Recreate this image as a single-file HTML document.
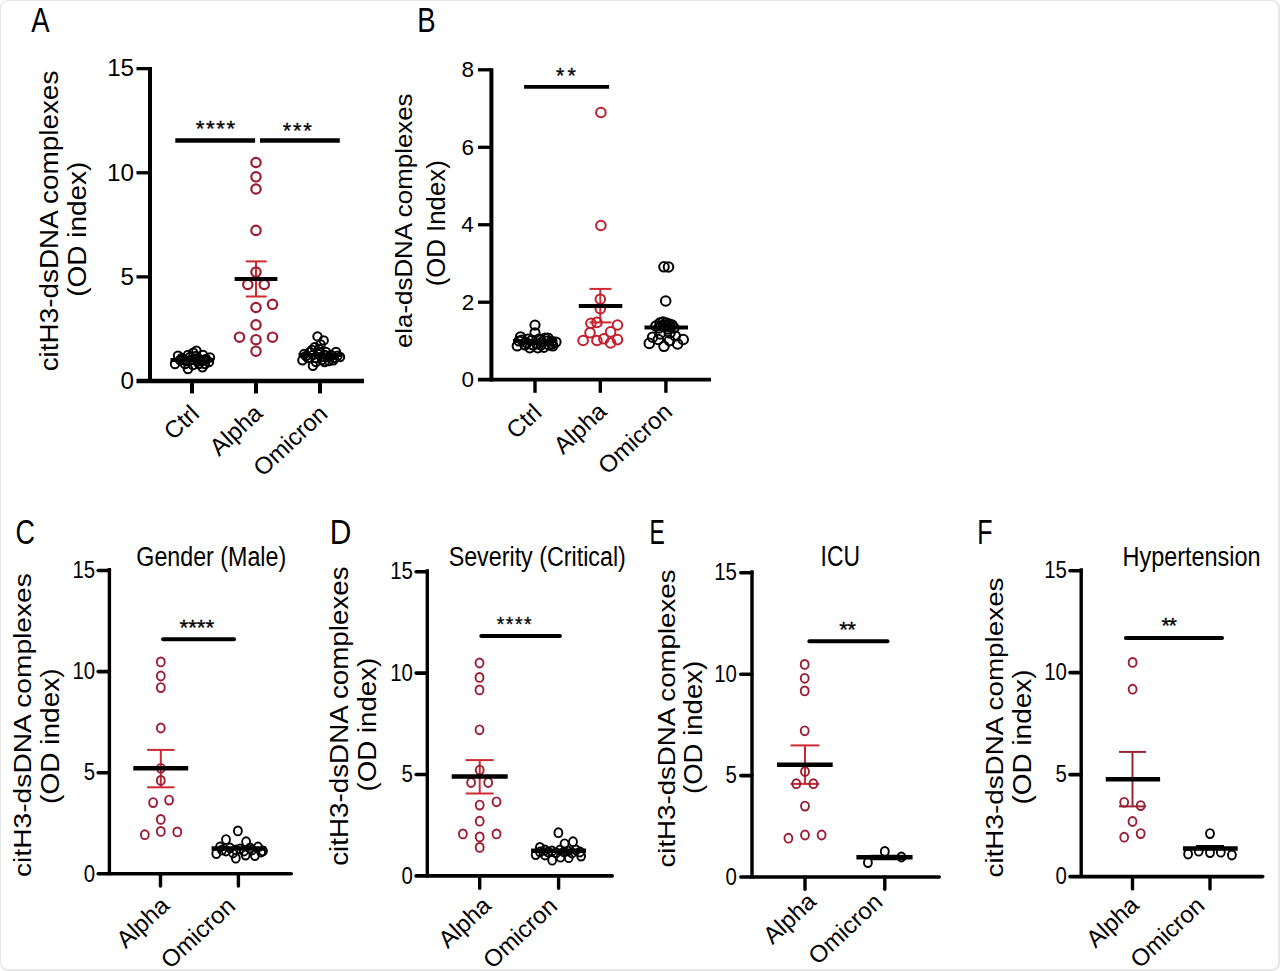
<!DOCTYPE html>
<html><head><meta charset="utf-8"><title>Figure</title>
<style>
html,body{margin:0;padding:0;background:#fff;}
body{width:1280px;height:971px;overflow:hidden;position:relative;}
.frame{position:absolute;left:0;top:0;width:1277px;height:968px;border-style:solid;border-color:#e6e6e6;border-width:1px 2px 2px 1px;border-radius:8px;box-sizing:content-box;}
svg{position:absolute;left:0;top:0;}
text{font-family:'Liberation Sans', Arial, sans-serif;fill:#000;}
</style></head>
<body>
<div class="frame"></div>
<svg width="1280" height="971" viewBox="0 0 1280 971">
<!-- Panel A -->
<text x="31.25" y="31.84" font-size="35.37" textLength="18.34" lengthAdjust="spacingAndGlyphs">A</text>
<line x1="150" y1="67" x2="150" y2="383" stroke="#000" stroke-width="4" stroke-linecap="butt"/>
<line x1="136.5" y1="381" x2="364" y2="381" stroke="#000" stroke-width="4.5" stroke-linecap="butt"/>
<line x1="136.5" y1="68.65" x2="150" y2="68.65" stroke="#000" stroke-width="3.3" stroke-linecap="butt"/>
<line x1="136.5" y1="172.77" x2="150" y2="172.77" stroke="#000" stroke-width="3.3" stroke-linecap="butt"/>
<line x1="136.5" y1="276.88" x2="150" y2="276.88" stroke="#000" stroke-width="3.3" stroke-linecap="butt"/>
<text x="107.13" y="76.27" font-size="24.2">15</text>
<text x="107.06" y="180.5" font-size="24.2">10</text>
<text x="120.59" y="284.5" font-size="24.2">5</text>
<text x="120.51" y="388.74" font-size="24.2">0</text>
<line x1="192" y1="381" x2="192" y2="393.4" stroke="#000" stroke-width="4" stroke-linecap="butt"/>
<line x1="256" y1="381" x2="256" y2="393.4" stroke="#000" stroke-width="4" stroke-linecap="butt"/>
<line x1="320" y1="381" x2="320" y2="393.4" stroke="#000" stroke-width="4" stroke-linecap="butt"/>
<text transform="translate(58.18 371.37) rotate(-90)" font-size="25.21" textLength="300.71" lengthAdjust="spacingAndGlyphs">citH3-dsDNA complexes</text>
<text transform="translate(86.17 296.83) rotate(-90)" font-size="25.89" textLength="135.21" lengthAdjust="spacingAndGlyphs">(OD index)</text>
<text transform="translate(173.29 441.12) rotate(-43)" font-size="24">Ctrl</text>
<text transform="translate(219.1 457.02) rotate(-43)" font-size="24">Alpha</text>
<text transform="translate(262.73 477.42) rotate(-43)" font-size="24">Omicron</text>
<line x1="175.3" y1="140.4" x2="255.1" y2="140.4" stroke="#000" stroke-width="4.5" stroke-linecap="butt"/>
<line x1="260" y1="140.4" x2="339.8" y2="140.4" stroke="#000" stroke-width="4.5" stroke-linecap="butt"/>
<text x="195.64" y="135.53" font-size="22.29" letter-spacing="1.62" stroke="#000" stroke-width="0.3">****</text>
<text x="282.85" y="137.84" font-size="22" letter-spacing="1.58" stroke="#000" stroke-width="0.3">***</text>
<circle cx="175" cy="364" r="4.2" fill="none" stroke="#000" stroke-width="2"/>
<circle cx="188" cy="369" r="4.2" fill="none" stroke="#000" stroke-width="2"/>
<circle cx="196.4" cy="350.8" r="4.2" fill="none" stroke="#000" stroke-width="2"/>
<circle cx="193.2" cy="352.6" r="4.2" fill="none" stroke="#000" stroke-width="2"/>
<circle cx="210" cy="357.5" r="4.2" fill="none" stroke="#000" stroke-width="2"/>
<circle cx="202.5" cy="367.3" r="4.2" fill="none" stroke="#000" stroke-width="2"/>
<circle cx="178" cy="355.6" r="4.2" fill="none" stroke="#000" stroke-width="2"/>
<circle cx="182" cy="358" r="4.2" fill="none" stroke="#000" stroke-width="2"/>
<circle cx="186" cy="361" r="4.2" fill="none" stroke="#000" stroke-width="2"/>
<circle cx="190" cy="357" r="4.2" fill="none" stroke="#000" stroke-width="2"/>
<circle cx="194" cy="360" r="4.2" fill="none" stroke="#000" stroke-width="2"/>
<circle cx="198" cy="358" r="4.2" fill="none" stroke="#000" stroke-width="2"/>
<circle cx="202" cy="361" r="4.2" fill="none" stroke="#000" stroke-width="2"/>
<circle cx="206" cy="359" r="4.2" fill="none" stroke="#000" stroke-width="2"/>
<circle cx="185" cy="364" r="4.2" fill="none" stroke="#000" stroke-width="2"/>
<circle cx="193" cy="365" r="4.2" fill="none" stroke="#000" stroke-width="2"/>
<circle cx="199" cy="364" r="4.2" fill="none" stroke="#000" stroke-width="2"/>
<circle cx="205" cy="364" r="4.2" fill="none" stroke="#000" stroke-width="2"/>
<circle cx="209" cy="362" r="4.2" fill="none" stroke="#000" stroke-width="2"/>
<circle cx="180" cy="360" r="4.2" fill="none" stroke="#000" stroke-width="2"/>
<circle cx="188" cy="355" r="4.2" fill="none" stroke="#000" stroke-width="2"/>
<circle cx="196" cy="356" r="4.2" fill="none" stroke="#000" stroke-width="2"/>
<circle cx="203" cy="355" r="4.2" fill="none" stroke="#000" stroke-width="2"/>
<circle cx="183" cy="360" r="4.2" fill="none" stroke="#000" stroke-width="2"/>
<circle cx="190" cy="360" r="4.2" fill="none" stroke="#000" stroke-width="2"/>
<circle cx="198" cy="361" r="4.2" fill="none" stroke="#000" stroke-width="2"/>
<circle cx="205" cy="360" r="4.2" fill="none" stroke="#000" stroke-width="2"/>
<line x1="170.5" y1="360" x2="213.5" y2="360" stroke="#000" stroke-width="4" stroke-linecap="butt"/>
<line x1="256" y1="261.4" x2="256" y2="296.5" stroke="#cc2a30" stroke-width="2" stroke-linecap="butt"/>
<line x1="245.8" y1="261.4" x2="266.7" y2="261.4" stroke="#cc2a30" stroke-width="2" stroke-linecap="butt"/>
<line x1="245.8" y1="296.5" x2="266.7" y2="296.5" stroke="#cc2a30" stroke-width="2" stroke-linecap="butt"/>
<circle cx="256" cy="162.5" r="4.7" fill="none" stroke="#9c1d33" stroke-width="2.2"/>
<circle cx="256" cy="176.8" r="4.7" fill="none" stroke="#9c1d33" stroke-width="2.2"/>
<circle cx="256" cy="189" r="4.7" fill="none" stroke="#9c1d33" stroke-width="2.2"/>
<circle cx="256" cy="230.4" r="4.7" fill="none" stroke="#9c1d33" stroke-width="2.2"/>
<circle cx="256" cy="272.1" r="4.7" fill="none" stroke="#9c1d33" stroke-width="2.2"/>
<circle cx="247.8" cy="284.5" r="4.7" fill="none" stroke="#9c1d33" stroke-width="2.2"/>
<circle cx="264.3" cy="284.5" r="4.7" fill="none" stroke="#9c1d33" stroke-width="2.2"/>
<circle cx="272.5" cy="304.3" r="4.7" fill="none" stroke="#9c1d33" stroke-width="2.2"/>
<circle cx="256" cy="307.5" r="4.7" fill="none" stroke="#9c1d33" stroke-width="2.2"/>
<circle cx="256" cy="324.8" r="4.7" fill="none" stroke="#9c1d33" stroke-width="2.2"/>
<circle cx="239.5" cy="337.2" r="4.7" fill="none" stroke="#9c1d33" stroke-width="2.2"/>
<circle cx="272.5" cy="337.2" r="4.7" fill="none" stroke="#9c1d33" stroke-width="2.2"/>
<circle cx="256" cy="339.7" r="4.7" fill="none" stroke="#9c1d33" stroke-width="2.2"/>
<circle cx="256" cy="351.2" r="4.7" fill="none" stroke="#9c1d33" stroke-width="2.2"/>
<line x1="234.6" y1="279" x2="277.4" y2="279" stroke="#000" stroke-width="4" stroke-linecap="butt"/>
<circle cx="317.5" cy="336.4" r="4.2" fill="none" stroke="#000" stroke-width="2"/>
<circle cx="323.7" cy="340.4" r="4.2" fill="none" stroke="#000" stroke-width="2"/>
<circle cx="320.6" cy="344.4" r="4.2" fill="none" stroke="#000" stroke-width="2"/>
<circle cx="314.7" cy="347.2" r="4.2" fill="none" stroke="#000" stroke-width="2"/>
<circle cx="302.4" cy="360.2" r="4.2" fill="none" stroke="#000" stroke-width="2"/>
<circle cx="312.9" cy="365.7" r="4.2" fill="none" stroke="#000" stroke-width="2"/>
<circle cx="337.6" cy="355.8" r="4.2" fill="none" stroke="#000" stroke-width="2"/>
<circle cx="333.3" cy="360.2" r="4.2" fill="none" stroke="#000" stroke-width="2"/>
<circle cx="324.6" cy="362" r="4.2" fill="none" stroke="#000" stroke-width="2"/>
<circle cx="304.2" cy="354" r="4.2" fill="none" stroke="#000" stroke-width="2"/>
<circle cx="310" cy="352" r="4.2" fill="none" stroke="#000" stroke-width="2"/>
<circle cx="318" cy="354" r="4.2" fill="none" stroke="#000" stroke-width="2"/>
<circle cx="326" cy="352" r="4.2" fill="none" stroke="#000" stroke-width="2"/>
<circle cx="331" cy="355" r="4.2" fill="none" stroke="#000" stroke-width="2"/>
<circle cx="308" cy="358" r="4.2" fill="none" stroke="#000" stroke-width="2"/>
<circle cx="316" cy="358" r="4.2" fill="none" stroke="#000" stroke-width="2"/>
<circle cx="322" cy="357" r="4.2" fill="none" stroke="#000" stroke-width="2"/>
<circle cx="336" cy="352" r="4.2" fill="none" stroke="#000" stroke-width="2"/>
<circle cx="306" cy="356" r="4.2" fill="none" stroke="#000" stroke-width="2"/>
<circle cx="312" cy="350" r="4.2" fill="none" stroke="#000" stroke-width="2"/>
<circle cx="320" cy="352" r="4.2" fill="none" stroke="#000" stroke-width="2"/>
<circle cx="328" cy="357" r="4.2" fill="none" stroke="#000" stroke-width="2"/>
<circle cx="334" cy="358" r="4.2" fill="none" stroke="#000" stroke-width="2"/>
<circle cx="316" cy="362" r="4.2" fill="none" stroke="#000" stroke-width="2"/>
<circle cx="322" cy="360" r="4.2" fill="none" stroke="#000" stroke-width="2"/>
<circle cx="329" cy="361" r="4.2" fill="none" stroke="#000" stroke-width="2"/>
<circle cx="340" cy="357" r="4.2" fill="none" stroke="#000" stroke-width="2"/>
<circle cx="313" cy="355" r="4.2" fill="none" stroke="#000" stroke-width="2"/>
<circle cx="319" cy="349" r="4.2" fill="none" stroke="#000" stroke-width="2"/>
<circle cx="325" cy="355" r="4.2" fill="none" stroke="#000" stroke-width="2"/>
<line x1="298.5" y1="355" x2="341.5" y2="355" stroke="#000" stroke-width="4" stroke-linecap="butt"/>
<!-- Panel B -->
<text x="417.15" y="31.84" font-size="35.08" textLength="18.34" lengthAdjust="spacingAndGlyphs">B</text>
<line x1="491.4" y1="68.3" x2="491.4" y2="381.5" stroke="#000" stroke-width="4" stroke-linecap="butt"/>
<line x1="478" y1="379.7" x2="711" y2="379.7" stroke="#000" stroke-width="3.8" stroke-linecap="butt"/>
<line x1="478" y1="69.8" x2="491.4" y2="69.8" stroke="#000" stroke-width="3.3" stroke-linecap="butt"/>
<line x1="478" y1="147.28" x2="491.4" y2="147.28" stroke="#000" stroke-width="3.3" stroke-linecap="butt"/>
<line x1="478" y1="224.75" x2="491.4" y2="224.75" stroke="#000" stroke-width="3.3" stroke-linecap="butt"/>
<line x1="478" y1="302.23" x2="491.4" y2="302.23" stroke="#000" stroke-width="3.3" stroke-linecap="butt"/>
<text x="461.48" y="77.15" font-size="22.5">8</text>
<text x="461.5" y="154.63" font-size="22.5">6</text>
<text x="461.17" y="232.1" font-size="22.5">4</text>
<text x="461.64" y="309.69" font-size="22.5">2</text>
<text x="461.39" y="387.05" font-size="22.5">0</text>
<line x1="535" y1="379.7" x2="535" y2="392.8" stroke="#000" stroke-width="3.4" stroke-linecap="butt"/>
<line x1="600.3" y1="379.7" x2="600.3" y2="392.8" stroke="#000" stroke-width="3.4" stroke-linecap="butt"/>
<line x1="665.9" y1="379.7" x2="665.9" y2="392.8" stroke="#000" stroke-width="3.4" stroke-linecap="butt"/>
<text transform="translate(411.76 348.09) rotate(-90)" font-size="24.36" textLength="254.66" lengthAdjust="spacingAndGlyphs">ela-dsDNA complexes</text>
<text transform="translate(444.93 286.3) rotate(-90)" font-size="25.56" textLength="126.03" lengthAdjust="spacingAndGlyphs">(OD Index)</text>
<text transform="translate(515.84 439.92) rotate(-43)" font-size="24">Ctrl</text>
<text transform="translate(563.1 455.22) rotate(-43)" font-size="24">Alpha</text>
<text transform="translate(607.53 475.47) rotate(-43)" font-size="24">Omicron</text>
<line x1="524.1" y1="86.9" x2="609.1" y2="86.9" stroke="#000" stroke-width="3.7" stroke-linecap="butt"/>
<text x="556.06" y="82.84" font-size="21.43" letter-spacing="3.24" stroke="#000" stroke-width="0.3">**</text>
<circle cx="535" cy="325.1" r="4.6" fill="none" stroke="#000" stroke-width="2"/>
<circle cx="535" cy="332.8" r="4.6" fill="none" stroke="#000" stroke-width="2"/>
<circle cx="520.5" cy="336.8" r="4.6" fill="none" stroke="#000" stroke-width="2"/>
<circle cx="517.2" cy="346" r="4.6" fill="none" stroke="#000" stroke-width="2"/>
<circle cx="529.8" cy="347.8" r="4.6" fill="none" stroke="#000" stroke-width="2"/>
<circle cx="537.8" cy="347.8" r="4.6" fill="none" stroke="#000" stroke-width="2"/>
<circle cx="543.9" cy="347.3" r="4.6" fill="none" stroke="#000" stroke-width="2"/>
<circle cx="552.8" cy="346" r="4.6" fill="none" stroke="#000" stroke-width="2"/>
<circle cx="551.9" cy="341.3" r="4.6" fill="none" stroke="#000" stroke-width="2"/>
<circle cx="522" cy="340" r="4.6" fill="none" stroke="#000" stroke-width="2"/>
<circle cx="527" cy="343" r="4.6" fill="none" stroke="#000" stroke-width="2"/>
<circle cx="532" cy="340" r="4.6" fill="none" stroke="#000" stroke-width="2"/>
<circle cx="537" cy="344" r="4.6" fill="none" stroke="#000" stroke-width="2"/>
<circle cx="542" cy="342" r="4.6" fill="none" stroke="#000" stroke-width="2"/>
<circle cx="547" cy="341" r="4.6" fill="none" stroke="#000" stroke-width="2"/>
<circle cx="552" cy="344" r="4.6" fill="none" stroke="#000" stroke-width="2"/>
<circle cx="525" cy="345" r="4.6" fill="none" stroke="#000" stroke-width="2"/>
<circle cx="533" cy="345" r="4.6" fill="none" stroke="#000" stroke-width="2"/>
<circle cx="541" cy="345" r="4.6" fill="none" stroke="#000" stroke-width="2"/>
<circle cx="549" cy="345" r="4.6" fill="none" stroke="#000" stroke-width="2"/>
<circle cx="519" cy="341" r="4.6" fill="none" stroke="#000" stroke-width="2"/>
<circle cx="545" cy="338" r="4.6" fill="none" stroke="#000" stroke-width="2"/>
<circle cx="528" cy="339" r="4.6" fill="none" stroke="#000" stroke-width="2"/>
<circle cx="539" cy="339" r="4.6" fill="none" stroke="#000" stroke-width="2"/>
<circle cx="548" cy="338" r="4.6" fill="none" stroke="#000" stroke-width="2"/>
<circle cx="556" cy="342" r="4.6" fill="none" stroke="#000" stroke-width="2"/>
<line x1="513" y1="341" x2="557" y2="341" stroke="#000" stroke-width="4" stroke-linecap="butt"/>
<line x1="600.3" y1="288.9" x2="600.3" y2="322.4" stroke="#cc2a30" stroke-width="2" stroke-linecap="butt"/>
<line x1="589.5" y1="288.9" x2="611.5" y2="288.9" stroke="#cc2a30" stroke-width="2" stroke-linecap="butt"/>
<line x1="589.5" y1="322.4" x2="611.5" y2="322.4" stroke="#cc2a30" stroke-width="2" stroke-linecap="butt"/>
<circle cx="600.9" cy="112.5" r="4.8" fill="none" stroke="#c41e2e" stroke-width="2"/>
<circle cx="600.9" cy="225.5" r="4.8" fill="none" stroke="#c41e2e" stroke-width="2"/>
<circle cx="600.3" cy="299.2" r="4.8" fill="none" stroke="#c41e2e" stroke-width="2"/>
<circle cx="600.3" cy="308.7" r="4.8" fill="none" stroke="#c41e2e" stroke-width="2"/>
<circle cx="590.9" cy="323.3" r="4.8" fill="none" stroke="#c41e2e" stroke-width="2"/>
<circle cx="596.9" cy="322.4" r="4.8" fill="none" stroke="#c41e2e" stroke-width="2"/>
<circle cx="617.5" cy="325" r="4.8" fill="none" stroke="#c41e2e" stroke-width="2"/>
<circle cx="590" cy="332.7" r="4.8" fill="none" stroke="#c41e2e" stroke-width="2"/>
<circle cx="610.6" cy="331.9" r="4.8" fill="none" stroke="#c41e2e" stroke-width="2"/>
<circle cx="583.1" cy="340.5" r="4.8" fill="none" stroke="#c41e2e" stroke-width="2"/>
<circle cx="596.9" cy="340.5" r="4.8" fill="none" stroke="#c41e2e" stroke-width="2"/>
<circle cx="603.8" cy="338.8" r="4.8" fill="none" stroke="#c41e2e" stroke-width="2"/>
<circle cx="610.6" cy="343" r="4.8" fill="none" stroke="#c41e2e" stroke-width="2"/>
<circle cx="617.5" cy="339.6" r="4.8" fill="none" stroke="#c41e2e" stroke-width="2"/>
<line x1="578.8" y1="306.1" x2="622.3" y2="306.1" stroke="#000" stroke-width="4" stroke-linecap="butt"/>
<circle cx="664" cy="266.8" r="4.8" fill="none" stroke="#000" stroke-width="2"/>
<circle cx="668.5" cy="267" r="4.8" fill="none" stroke="#000" stroke-width="2"/>
<circle cx="665.7" cy="301" r="4.8" fill="none" stroke="#000" stroke-width="2"/>
<circle cx="660" cy="323" r="4.8" fill="none" stroke="#000" stroke-width="2"/>
<circle cx="663" cy="322" r="4.8" fill="none" stroke="#000" stroke-width="2"/>
<circle cx="666" cy="323" r="4.8" fill="none" stroke="#000" stroke-width="2"/>
<circle cx="669" cy="324" r="4.8" fill="none" stroke="#000" stroke-width="2"/>
<circle cx="672" cy="325" r="4.8" fill="none" stroke="#000" stroke-width="2"/>
<circle cx="661" cy="326" r="4.8" fill="none" stroke="#000" stroke-width="2"/>
<circle cx="664" cy="325" r="4.8" fill="none" stroke="#000" stroke-width="2"/>
<circle cx="667" cy="326" r="4.8" fill="none" stroke="#000" stroke-width="2"/>
<circle cx="670" cy="327" r="4.8" fill="none" stroke="#000" stroke-width="2"/>
<circle cx="659" cy="328" r="4.8" fill="none" stroke="#000" stroke-width="2"/>
<circle cx="668" cy="329" r="4.8" fill="none" stroke="#000" stroke-width="2"/>
<circle cx="674" cy="328" r="4.8" fill="none" stroke="#000" stroke-width="2"/>
<circle cx="656" cy="326" r="4.8" fill="none" stroke="#000" stroke-width="2"/>
<circle cx="649.3" cy="343.4" r="4.8" fill="none" stroke="#000" stroke-width="2"/>
<circle cx="652.6" cy="337.2" r="4.8" fill="none" stroke="#000" stroke-width="2"/>
<circle cx="658.3" cy="339.5" r="4.8" fill="none" stroke="#000" stroke-width="2"/>
<circle cx="664" cy="346.3" r="4.8" fill="none" stroke="#000" stroke-width="2"/>
<circle cx="669.6" cy="340.6" r="4.8" fill="none" stroke="#000" stroke-width="2"/>
<circle cx="675.3" cy="336" r="4.8" fill="none" stroke="#000" stroke-width="2"/>
<circle cx="677.6" cy="344" r="4.8" fill="none" stroke="#000" stroke-width="2"/>
<circle cx="683.2" cy="339.5" r="4.8" fill="none" stroke="#000" stroke-width="2"/>
<circle cx="660" cy="334" r="4.8" fill="none" stroke="#000" stroke-width="2"/>
<circle cx="670" cy="333" r="4.8" fill="none" stroke="#000" stroke-width="2"/>
<line x1="644.5" y1="327.6" x2="688" y2="327.6" stroke="#000" stroke-width="4" stroke-linecap="butt"/>
<!-- Panel C -->
<text x="15.43" y="543.69" font-size="34.65" textLength="19.43" lengthAdjust="spacingAndGlyphs">C</text>
<text x="136.34" y="565.86" font-size="28.36" textLength="149.82" lengthAdjust="spacingAndGlyphs">Gender (Male)</text>
<line x1="109.4" y1="568" x2="109.4" y2="875.3" stroke="#000" stroke-width="3.4" stroke-linecap="butt"/>
<line x1="98.2" y1="873.8" x2="291.2" y2="873.8" stroke="#000" stroke-width="3.6" stroke-linecap="round"/>
<line x1="98.2" y1="570.5" x2="109.4" y2="570.5" stroke="#000" stroke-width="3.6" stroke-linecap="round"/>
<line x1="98.2" y1="671.6" x2="109.4" y2="671.6" stroke="#000" stroke-width="3.6" stroke-linecap="round"/>
<line x1="98.2" y1="772.7" x2="109.4" y2="772.7" stroke="#000" stroke-width="3.6" stroke-linecap="round"/>
<text x="72.49" y="578.15" font-size="24" textLength="22.69" lengthAdjust="spacingAndGlyphs">15</text>
<text x="72.43" y="679.37" font-size="24" textLength="22.69" lengthAdjust="spacingAndGlyphs">10</text>
<text x="83.83" y="780.35" font-size="24" textLength="11.35" lengthAdjust="spacingAndGlyphs">5</text>
<text x="83.77" y="881.57" font-size="24" textLength="11.35" lengthAdjust="spacingAndGlyphs">0</text>
<line x1="160.5" y1="873.8" x2="160.5" y2="886.1" stroke="#000" stroke-width="3.4" stroke-linecap="round"/>
<line x1="238.4" y1="873.8" x2="238.4" y2="886.1" stroke="#000" stroke-width="3.4" stroke-linecap="round"/>
<text transform="translate(30.74 876.98) rotate(-90)" font-size="24.46" textLength="303.84" lengthAdjust="spacingAndGlyphs">citH3-dsDNA complexes</text>
<text transform="translate(58.63 803.94) rotate(-90)" font-size="25.56" textLength="135.52" lengthAdjust="spacingAndGlyphs">(OD index)</text>
<text transform="translate(125.75 949.22) rotate(-43)" font-size="24">Alpha</text>
<text transform="translate(170.33 969.77) rotate(-43)" font-size="24">Omicron</text>
<line x1="163.1" y1="639.2" x2="234" y2="639.2" stroke="#000" stroke-width="4" stroke-linecap="round"/>
<text x="179.54" y="635.33" font-size="22.57" letter-spacing="-0.16" stroke="#000" stroke-width="0.3">****</text>
<line x1="160.8" y1="749.9" x2="160.8" y2="787.3" stroke="#cc2a30" stroke-width="2" stroke-linecap="butt"/>
<line x1="147.05" y1="749.9" x2="174.55" y2="749.9" stroke="#cc2a30" stroke-width="2" stroke-linecap="butt"/>
<line x1="147.05" y1="787.3" x2="174.55" y2="787.3" stroke="#cc2a30" stroke-width="2" stroke-linecap="butt"/>
<ellipse cx="160.8" cy="661.9" rx="3.95" ry="4.45" fill="none" stroke="#9c1d33" stroke-width="1.9"/>
<ellipse cx="160.8" cy="676" rx="3.95" ry="4.45" fill="none" stroke="#9c1d33" stroke-width="1.9"/>
<ellipse cx="160.8" cy="687.6" rx="3.95" ry="4.45" fill="none" stroke="#9c1d33" stroke-width="1.9"/>
<ellipse cx="160.8" cy="728" rx="3.95" ry="4.45" fill="none" stroke="#9c1d33" stroke-width="1.9"/>
<ellipse cx="160.8" cy="768.3" rx="3.95" ry="4.45" fill="none" stroke="#9c1d33" stroke-width="1.9"/>
<ellipse cx="160.8" cy="780.4" rx="3.95" ry="4.45" fill="none" stroke="#9c1d33" stroke-width="1.9"/>
<ellipse cx="153.1" cy="802.6" rx="3.95" ry="4.45" fill="none" stroke="#9c1d33" stroke-width="1.9"/>
<ellipse cx="169.1" cy="800.1" rx="3.95" ry="4.45" fill="none" stroke="#9c1d33" stroke-width="1.9"/>
<ellipse cx="160.8" cy="819.4" rx="3.95" ry="4.45" fill="none" stroke="#9c1d33" stroke-width="1.9"/>
<ellipse cx="160.8" cy="831.4" rx="3.95" ry="4.45" fill="none" stroke="#9c1d33" stroke-width="1.9"/>
<ellipse cx="144.8" cy="834.7" rx="3.95" ry="4.45" fill="none" stroke="#9c1d33" stroke-width="1.9"/>
<ellipse cx="177.3" cy="831.9" rx="3.95" ry="4.45" fill="none" stroke="#9c1d33" stroke-width="1.9"/>
<line x1="133.3" y1="768.3" x2="188.2" y2="768.3" stroke="#000" stroke-width="4.5" stroke-linecap="butt"/>
<ellipse cx="237.9" cy="830.9" rx="3.95" ry="4.45" fill="none" stroke="#000" stroke-width="1.9"/>
<ellipse cx="226" cy="839.6" rx="3.95" ry="4.45" fill="none" stroke="#000" stroke-width="1.9"/>
<ellipse cx="246.1" cy="841.7" rx="3.95" ry="4.45" fill="none" stroke="#000" stroke-width="1.9"/>
<ellipse cx="216.3" cy="853.6" rx="3.95" ry="4.45" fill="none" stroke="#000" stroke-width="1.9"/>
<ellipse cx="235.8" cy="858.2" rx="3.95" ry="4.45" fill="none" stroke="#000" stroke-width="1.9"/>
<ellipse cx="245.6" cy="855.1" rx="3.95" ry="4.45" fill="none" stroke="#000" stroke-width="1.9"/>
<ellipse cx="254.9" cy="855.6" rx="3.95" ry="4.45" fill="none" stroke="#000" stroke-width="1.9"/>
<ellipse cx="261.1" cy="852" rx="3.95" ry="4.45" fill="none" stroke="#000" stroke-width="1.9"/>
<ellipse cx="220" cy="847" rx="3.95" ry="4.45" fill="none" stroke="#000" stroke-width="1.9"/>
<ellipse cx="230" cy="848" rx="3.95" ry="4.45" fill="none" stroke="#000" stroke-width="1.9"/>
<ellipse cx="240" cy="849" rx="3.95" ry="4.45" fill="none" stroke="#000" stroke-width="1.9"/>
<ellipse cx="250" cy="848" rx="3.95" ry="4.45" fill="none" stroke="#000" stroke-width="1.9"/>
<ellipse cx="258" cy="847" rx="3.95" ry="4.45" fill="none" stroke="#000" stroke-width="1.9"/>
<ellipse cx="226" cy="851" rx="3.95" ry="4.45" fill="none" stroke="#000" stroke-width="1.9"/>
<ellipse cx="233" cy="853" rx="3.95" ry="4.45" fill="none" stroke="#000" stroke-width="1.9"/>
<ellipse cx="222" cy="850" rx="3.95" ry="4.45" fill="none" stroke="#000" stroke-width="1.9"/>
<ellipse cx="236" cy="850" rx="3.95" ry="4.45" fill="none" stroke="#000" stroke-width="1.9"/>
<ellipse cx="244" cy="851" rx="3.95" ry="4.45" fill="none" stroke="#000" stroke-width="1.9"/>
<ellipse cx="252" cy="850" rx="3.95" ry="4.45" fill="none" stroke="#000" stroke-width="1.9"/>
<ellipse cx="263" cy="851" rx="3.95" ry="4.45" fill="none" stroke="#000" stroke-width="1.9"/>
<line x1="211.6" y1="848.4" x2="265.7" y2="848.4" stroke="#000" stroke-width="4.5" stroke-linecap="butt"/>
<!-- Panel D -->
<text x="329.74" y="544.24" font-size="35.37" textLength="21.63" lengthAdjust="spacingAndGlyphs">D</text>
<text x="448.63" y="565.81" font-size="28.43" textLength="177.24" lengthAdjust="spacingAndGlyphs">Severity (Critical)</text>
<line x1="427.3" y1="569.2" x2="427.3" y2="877.4" stroke="#000" stroke-width="3.4" stroke-linecap="butt"/>
<line x1="416.1" y1="875.9" x2="612.2" y2="875.9" stroke="#000" stroke-width="3.6" stroke-linecap="round"/>
<line x1="416.1" y1="571.7" x2="427.3" y2="571.7" stroke="#000" stroke-width="3.6" stroke-linecap="round"/>
<line x1="416.1" y1="673.1" x2="427.3" y2="673.1" stroke="#000" stroke-width="3.6" stroke-linecap="round"/>
<line x1="416.1" y1="774.5" x2="427.3" y2="774.5" stroke="#000" stroke-width="3.6" stroke-linecap="round"/>
<text x="390.19" y="579.35" font-size="24" textLength="22.69" lengthAdjust="spacingAndGlyphs">15</text>
<text x="390.13" y="680.87" font-size="24" textLength="22.69" lengthAdjust="spacingAndGlyphs">10</text>
<text x="401.53" y="782.15" font-size="24" textLength="11.35" lengthAdjust="spacingAndGlyphs">5</text>
<text x="401.47" y="883.67" font-size="24" textLength="11.35" lengthAdjust="spacingAndGlyphs">0</text>
<line x1="479.7" y1="875.9" x2="479.7" y2="888.2" stroke="#000" stroke-width="3.4" stroke-linecap="round"/>
<line x1="558.6" y1="875.9" x2="558.6" y2="888.2" stroke="#000" stroke-width="3.4" stroke-linecap="round"/>
<text transform="translate(347.58 865.77) rotate(-90)" font-size="25.21" textLength="299.4" lengthAdjust="spacingAndGlyphs">citH3-dsDNA complexes</text>
<text transform="translate(375.73 791.52) rotate(-90)" font-size="26.53" textLength="133.77" lengthAdjust="spacingAndGlyphs">(OD index)</text>
<text transform="translate(447.65 949.22) rotate(-43)" font-size="24">Alpha</text>
<text transform="translate(492.53 969.77) rotate(-43)" font-size="24">Omicron</text>
<line x1="481.3" y1="636.1" x2="559.9" y2="636.1" stroke="#000" stroke-width="4" stroke-linecap="round"/>
<text x="496.79" y="630.77" font-size="19.43" letter-spacing="1.5" stroke="#000" stroke-width="0.3">****</text>
<line x1="479.7" y1="760.1" x2="479.7" y2="793.5" stroke="#cc2a30" stroke-width="2" stroke-linecap="butt"/>
<line x1="465.7" y1="760.1" x2="493.7" y2="760.1" stroke="#cc2a30" stroke-width="2" stroke-linecap="butt"/>
<line x1="465.7" y1="793.5" x2="493.7" y2="793.5" stroke="#cc2a30" stroke-width="2" stroke-linecap="butt"/>
<ellipse cx="479.5" cy="663" rx="3.95" ry="4.45" fill="none" stroke="#9c1d33" stroke-width="1.9"/>
<ellipse cx="479.5" cy="677.4" rx="3.95" ry="4.45" fill="none" stroke="#9c1d33" stroke-width="1.9"/>
<ellipse cx="479.5" cy="689.9" rx="3.95" ry="4.45" fill="none" stroke="#9c1d33" stroke-width="1.9"/>
<ellipse cx="479.5" cy="729.8" rx="3.95" ry="4.45" fill="none" stroke="#9c1d33" stroke-width="1.9"/>
<ellipse cx="479.7" cy="770.1" rx="3.95" ry="4.45" fill="none" stroke="#9c1d33" stroke-width="1.9"/>
<ellipse cx="471.1" cy="782.5" rx="3.95" ry="4.45" fill="none" stroke="#9c1d33" stroke-width="1.9"/>
<ellipse cx="488.2" cy="782.5" rx="3.95" ry="4.45" fill="none" stroke="#9c1d33" stroke-width="1.9"/>
<ellipse cx="496.5" cy="801.8" rx="3.95" ry="4.45" fill="none" stroke="#9c1d33" stroke-width="1.9"/>
<ellipse cx="479.7" cy="805.1" rx="3.95" ry="4.45" fill="none" stroke="#9c1d33" stroke-width="1.9"/>
<ellipse cx="479.7" cy="821.2" rx="3.95" ry="4.45" fill="none" stroke="#9c1d33" stroke-width="1.9"/>
<ellipse cx="462.9" cy="833.9" rx="3.95" ry="4.45" fill="none" stroke="#9c1d33" stroke-width="1.9"/>
<ellipse cx="496.5" cy="833.9" rx="3.95" ry="4.45" fill="none" stroke="#9c1d33" stroke-width="1.9"/>
<ellipse cx="479.7" cy="836.9" rx="3.95" ry="4.45" fill="none" stroke="#9c1d33" stroke-width="1.9"/>
<ellipse cx="479.7" cy="847.4" rx="3.95" ry="4.45" fill="none" stroke="#9c1d33" stroke-width="1.9"/>
<line x1="451.7" y1="776.6" x2="507.7" y2="776.6" stroke="#000" stroke-width="4.5" stroke-linecap="butt"/>
<ellipse cx="558.4" cy="832.7" rx="3.95" ry="4.45" fill="none" stroke="#000" stroke-width="1.9"/>
<ellipse cx="564.6" cy="843.8" rx="3.95" ry="4.45" fill="none" stroke="#000" stroke-width="1.9"/>
<ellipse cx="573" cy="841.7" rx="3.95" ry="4.45" fill="none" stroke="#000" stroke-width="1.9"/>
<ellipse cx="539.9" cy="847.4" rx="3.95" ry="4.45" fill="none" stroke="#000" stroke-width="1.9"/>
<ellipse cx="535.7" cy="854.6" rx="3.95" ry="4.45" fill="none" stroke="#000" stroke-width="1.9"/>
<ellipse cx="552.2" cy="860.2" rx="3.95" ry="4.45" fill="none" stroke="#000" stroke-width="1.9"/>
<ellipse cx="560.5" cy="857.2" rx="3.95" ry="4.45" fill="none" stroke="#000" stroke-width="1.9"/>
<ellipse cx="568.7" cy="857.7" rx="3.95" ry="4.45" fill="none" stroke="#000" stroke-width="1.9"/>
<ellipse cx="581.1" cy="856.1" rx="3.95" ry="4.45" fill="none" stroke="#000" stroke-width="1.9"/>
<ellipse cx="545" cy="850" rx="3.95" ry="4.45" fill="none" stroke="#000" stroke-width="1.9"/>
<ellipse cx="552" cy="851" rx="3.95" ry="4.45" fill="none" stroke="#000" stroke-width="1.9"/>
<ellipse cx="560" cy="850" rx="3.95" ry="4.45" fill="none" stroke="#000" stroke-width="1.9"/>
<ellipse cx="568" cy="851" rx="3.95" ry="4.45" fill="none" stroke="#000" stroke-width="1.9"/>
<ellipse cx="576" cy="850" rx="3.95" ry="4.45" fill="none" stroke="#000" stroke-width="1.9"/>
<ellipse cx="545" cy="855" rx="3.95" ry="4.45" fill="none" stroke="#000" stroke-width="1.9"/>
<ellipse cx="540" cy="852" rx="3.95" ry="4.45" fill="none" stroke="#000" stroke-width="1.9"/>
<ellipse cx="548" cy="852" rx="3.95" ry="4.45" fill="none" stroke="#000" stroke-width="1.9"/>
<ellipse cx="556" cy="853" rx="3.95" ry="4.45" fill="none" stroke="#000" stroke-width="1.9"/>
<ellipse cx="564" cy="852" rx="3.95" ry="4.45" fill="none" stroke="#000" stroke-width="1.9"/>
<ellipse cx="572" cy="853" rx="3.95" ry="4.45" fill="none" stroke="#000" stroke-width="1.9"/>
<ellipse cx="580" cy="852" rx="3.95" ry="4.45" fill="none" stroke="#000" stroke-width="1.9"/>
<line x1="531.1" y1="850.7" x2="586" y2="850.7" stroke="#000" stroke-width="4.5" stroke-linecap="butt"/>
<!-- Panel E -->
<text x="649.52" y="544.04" font-size="35.08" textLength="15.29" lengthAdjust="spacingAndGlyphs">E</text>
<text x="820.59" y="565.64" font-size="29.14" textLength="39.5" lengthAdjust="spacingAndGlyphs">ICU</text>
<line x1="752" y1="570.3" x2="752" y2="878.5" stroke="#000" stroke-width="3.4" stroke-linecap="butt"/>
<line x1="740.8" y1="877" x2="939.2" y2="877" stroke="#000" stroke-width="3.6" stroke-linecap="round"/>
<line x1="740.8" y1="572.8" x2="752" y2="572.8" stroke="#000" stroke-width="3.6" stroke-linecap="round"/>
<line x1="740.8" y1="674.2" x2="752" y2="674.2" stroke="#000" stroke-width="3.6" stroke-linecap="round"/>
<line x1="740.8" y1="775.6" x2="752" y2="775.6" stroke="#000" stroke-width="3.6" stroke-linecap="round"/>
<text x="714.19" y="580.45" font-size="24" textLength="22.69" lengthAdjust="spacingAndGlyphs">15</text>
<text x="714.13" y="681.97" font-size="24" textLength="22.69" lengthAdjust="spacingAndGlyphs">10</text>
<text x="725.53" y="783.25" font-size="24" textLength="11.35" lengthAdjust="spacingAndGlyphs">5</text>
<text x="725.47" y="884.77" font-size="24" textLength="11.35" lengthAdjust="spacingAndGlyphs">0</text>
<line x1="805" y1="877" x2="805" y2="889.3" stroke="#000" stroke-width="3.4" stroke-linecap="round"/>
<line x1="884.8" y1="877" x2="884.8" y2="889.3" stroke="#000" stroke-width="3.4" stroke-linecap="round"/>
<text transform="translate(674.61 867.56) rotate(-90)" font-size="24.57" textLength="298.09" lengthAdjust="spacingAndGlyphs">citH3-dsDNA complexes</text>
<text transform="translate(702.17 794.01) rotate(-90)" font-size="25.89" textLength="133.16" lengthAdjust="spacingAndGlyphs">(OD index)</text>
<text transform="translate(772.6 945.37) rotate(-43)" font-size="24">Alpha</text>
<text transform="translate(817.73 965.67) rotate(-43)" font-size="24">Omicron</text>
<line x1="809.4" y1="641.2" x2="887.5" y2="641.2" stroke="#000" stroke-width="4" stroke-linecap="round"/>
<text x="839.14" y="637.03" font-size="22.29" letter-spacing="-0.5" stroke="#000" stroke-width="0.3">**</text>
<line x1="805" y1="745.4" x2="805" y2="783.9" stroke="#cc2a30" stroke-width="2" stroke-linecap="butt"/>
<line x1="790.6" y1="745.4" x2="819.4" y2="745.4" stroke="#cc2a30" stroke-width="2" stroke-linecap="butt"/>
<line x1="790.6" y1="783.9" x2="819.4" y2="783.9" stroke="#cc2a30" stroke-width="2" stroke-linecap="butt"/>
<ellipse cx="804.7" cy="664.4" rx="3.95" ry="4.45" fill="none" stroke="#9c1d33" stroke-width="1.9"/>
<ellipse cx="804.7" cy="678.3" rx="3.95" ry="4.45" fill="none" stroke="#9c1d33" stroke-width="1.9"/>
<ellipse cx="804.7" cy="690.9" rx="3.95" ry="4.45" fill="none" stroke="#9c1d33" stroke-width="1.9"/>
<ellipse cx="804.7" cy="730.8" rx="3.95" ry="4.45" fill="none" stroke="#9c1d33" stroke-width="1.9"/>
<ellipse cx="805" cy="771.5" rx="3.95" ry="4.45" fill="none" stroke="#9c1d33" stroke-width="1.9"/>
<ellipse cx="796.3" cy="783.7" rx="3.95" ry="4.45" fill="none" stroke="#9c1d33" stroke-width="1.9"/>
<ellipse cx="813.4" cy="783.7" rx="3.95" ry="4.45" fill="none" stroke="#9c1d33" stroke-width="1.9"/>
<ellipse cx="805" cy="806.1" rx="3.95" ry="4.45" fill="none" stroke="#9c1d33" stroke-width="1.9"/>
<ellipse cx="788.4" cy="838.2" rx="3.95" ry="4.45" fill="none" stroke="#9c1d33" stroke-width="1.9"/>
<ellipse cx="805" cy="835" rx="3.95" ry="4.45" fill="none" stroke="#9c1d33" stroke-width="1.9"/>
<ellipse cx="821.6" cy="835" rx="3.95" ry="4.45" fill="none" stroke="#9c1d33" stroke-width="1.9"/>
<line x1="777" y1="764.7" x2="832.7" y2="764.7" stroke="#000" stroke-width="4.5" stroke-linecap="butt"/>
<ellipse cx="867.9" cy="862.6" rx="3.95" ry="4.45" fill="none" stroke="#000" stroke-width="1.9"/>
<ellipse cx="884.8" cy="851.4" rx="3.95" ry="4.45" fill="none" stroke="#000" stroke-width="1.9"/>
<ellipse cx="901.4" cy="857" rx="3.95" ry="4.45" fill="none" stroke="#000" stroke-width="1.9"/>
<line x1="856.4" y1="857.3" x2="912.6" y2="857.3" stroke="#000" stroke-width="4.5" stroke-linecap="butt"/>
<line x1="871" y1="857.5" x2="905.6" y2="857.5" stroke="#000" stroke-width="5.6" stroke-linecap="butt"/>
<!-- Panel F -->
<text x="977.15" y="544.04" font-size="35.08" textLength="15.27" lengthAdjust="spacingAndGlyphs">F</text>
<text x="1122.48" y="565.53" font-size="27.9" textLength="138.17" lengthAdjust="spacingAndGlyphs">Hypertension</text>
<line x1="1081.2" y1="568.2" x2="1081.2" y2="878.1" stroke="#000" stroke-width="3.4" stroke-linecap="butt"/>
<line x1="1070" y1="876.6" x2="1262.7" y2="876.6" stroke="#000" stroke-width="3.6" stroke-linecap="round"/>
<line x1="1070" y1="570.7" x2="1081.2" y2="570.7" stroke="#000" stroke-width="3.6" stroke-linecap="round"/>
<line x1="1070" y1="672.67" x2="1081.2" y2="672.67" stroke="#000" stroke-width="3.6" stroke-linecap="round"/>
<line x1="1070" y1="774.63" x2="1081.2" y2="774.63" stroke="#000" stroke-width="3.6" stroke-linecap="round"/>
<text x="1044.19" y="578.35" font-size="24" textLength="22.69" lengthAdjust="spacingAndGlyphs">15</text>
<text x="1044.13" y="680.43" font-size="24" textLength="22.69" lengthAdjust="spacingAndGlyphs">10</text>
<text x="1055.53" y="782.28" font-size="24" textLength="11.35" lengthAdjust="spacingAndGlyphs">5</text>
<text x="1055.47" y="884.37" font-size="24" textLength="11.35" lengthAdjust="spacingAndGlyphs">0</text>
<line x1="1132.5" y1="876.6" x2="1132.5" y2="888.9" stroke="#000" stroke-width="3.4" stroke-linecap="round"/>
<line x1="1210" y1="876.6" x2="1210" y2="888.9" stroke="#000" stroke-width="3.4" stroke-linecap="round"/>
<text transform="translate(1002.87 877.47) rotate(-90)" font-size="23.82" textLength="300.01" lengthAdjust="spacingAndGlyphs">citH3-dsDNA complexes</text>
<text transform="translate(1031.1 804.53) rotate(-90)" font-size="25.24" textLength="135" lengthAdjust="spacingAndGlyphs">(OD index)</text>
<text transform="translate(1095.4 948.67) rotate(-43)" font-size="24">Alpha</text>
<text transform="translate(1139.73 969.22) rotate(-43)" font-size="24">Omicron</text>
<line x1="1125.9" y1="638.1" x2="1222" y2="638.1" stroke="#000" stroke-width="4" stroke-linecap="round"/>
<text x="1161.55" y="632.84" font-size="21.71" letter-spacing="-1.38" stroke="#000" stroke-width="0.3">**</text>
<line x1="1132.5" y1="751.9" x2="1132.5" y2="806.4" stroke="#962633" stroke-width="2" stroke-linecap="butt"/>
<line x1="1119" y1="751.9" x2="1146" y2="751.9" stroke="#962633" stroke-width="2" stroke-linecap="butt"/>
<line x1="1119" y1="806.4" x2="1146" y2="806.4" stroke="#962633" stroke-width="2" stroke-linecap="butt"/>
<ellipse cx="1132.6" cy="662.4" rx="3.95" ry="4.45" fill="none" stroke="#9c1d33" stroke-width="1.9"/>
<ellipse cx="1132.6" cy="689.2" rx="3.95" ry="4.45" fill="none" stroke="#9c1d33" stroke-width="1.9"/>
<ellipse cx="1124.2" cy="802.3" rx="3.95" ry="4.45" fill="none" stroke="#9c1d33" stroke-width="1.9"/>
<ellipse cx="1140.7" cy="805.6" rx="3.95" ry="4.45" fill="none" stroke="#9c1d33" stroke-width="1.9"/>
<ellipse cx="1132.5" cy="821.5" rx="3.95" ry="4.45" fill="none" stroke="#9c1d33" stroke-width="1.9"/>
<ellipse cx="1124.2" cy="837.2" rx="3.95" ry="4.45" fill="none" stroke="#9c1d33" stroke-width="1.9"/>
<ellipse cx="1140.7" cy="833.6" rx="3.95" ry="4.45" fill="none" stroke="#9c1d33" stroke-width="1.9"/>
<line x1="1105.8" y1="779.2" x2="1160.1" y2="779.2" stroke="#000" stroke-width="4.5" stroke-linecap="butt"/>
<ellipse cx="1210" cy="833.6" rx="3.95" ry="4.45" fill="none" stroke="#000" stroke-width="1.9"/>
<ellipse cx="1188.1" cy="854" rx="3.95" ry="4.45" fill="none" stroke="#000" stroke-width="1.9"/>
<ellipse cx="1198.7" cy="851.2" rx="3.95" ry="4.45" fill="none" stroke="#000" stroke-width="1.9"/>
<ellipse cx="1210" cy="852.6" rx="3.95" ry="4.45" fill="none" stroke="#000" stroke-width="1.9"/>
<ellipse cx="1220.8" cy="852.2" rx="3.95" ry="4.45" fill="none" stroke="#000" stroke-width="1.9"/>
<ellipse cx="1231.9" cy="855" rx="3.95" ry="4.45" fill="none" stroke="#000" stroke-width="1.9"/>
<line x1="1183" y1="848.5" x2="1237.7" y2="848.5" stroke="#000" stroke-width="4.5" stroke-linecap="butt"/>
<line x1="1196" y1="847.6" x2="1224" y2="847.6" stroke="#000" stroke-width="5.2" stroke-linecap="butt"/>
</svg>
</body></html>
